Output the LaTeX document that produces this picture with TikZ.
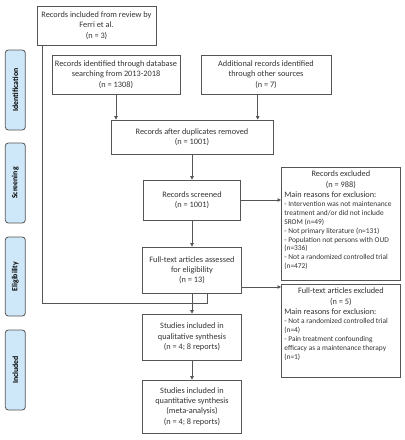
\documentclass[tikz,border=0pt]{standalone}
\usepackage{fontspec}
\setmainfont{Carlito}
\usetikzlibrary{arrows.meta,calc}
\definecolor{txt}{HTML}{333333}
\definecolor{edge}{HTML}{555555}
\definecolor{phasefill}{HTML}{CFE8F9}
\newcommand{\mainsz}{\fontsize{8.3}{10.3}\selectfont}
\newcommand{\itemsz}{\fontsize{7.4}{8.9}\selectfont}
\begin{document}
\begin{tikzpicture}[x=1pt,y=-1pt,
  box/.style={draw=edge,line width=0.8pt,fill=white,text=txt,align=center,inner sep=1pt,
    font=\mainsz},
  tbox/.style={text=txt,inner sep=0pt,anchor=north},
  phase/.style={draw=edge,line width=0.8pt,fill=phasefill,rounded corners=3pt,
    minimum width=20pt,inner sep=0pt,text=black,font=\fontsize{7.8}{9}\selectfont\bfseries},
  arr/.style={draw=edge,line width=0.8pt,-{Triangle[length=3.5pt,width=3.5pt]}},
  ln/.style={draw=edge,line width=0.8pt}]
\useasboundingbox (0,0) rectangle (405,440);
\fill[white] (0,0) rectangle (405,440);

% phase labels
\node[phase,minimum height=80pt] (pid) at (15.3,90) {\rotatebox{90}{Identification}};
\node[phase,minimum height=80pt] (psc) at (15.3,183) {\rotatebox{90}{Screening}};
\node[phase,minimum height=79pt] (pel) at (15.3,276.5) {\rotatebox{90}{Eligibility}};
\node[phase,minimum height=80pt] (pin) at (15.3,370) {\rotatebox{90}{Included}};

% boxes
\node[box,minimum width=119pt,minimum height=39pt] (ferri) at (96.5,25.5)
  {Records included from review by\\Ferri et al.\\(n = 3)};
\node[box,minimum width=128pt,minimum height=39pt] (db) at (116,74.5)
  {Records identified through database\\searching from 2013-2018\\(n = 1308)};
\node[box,minimum width=130pt,minimum height=39pt] (add) at (266,74.5)
  {Additional records identified\\through other sources\\(n = 7)};
\node[box,minimum width=162pt,minimum height=34pt] (dup) at (192,137)
  {Records after duplicates removed\\(n = 1001)};
\node[box,minimum width=97pt,minimum height=40pt] (scr) at (192,200)
  {Records screened\\(n = 1001)};
\node[box,minimum width=99pt,minimum height=46pt] (ft) at (192,270)
  {Full-text articles assessed\\for eligibility\\(n = 13)};
\node[box,minimum width=99pt,minimum height=46pt] (qual) at (192,337)
  {Studies included in\\qualitative synthesis\\(n = 4; 8 reports)};
\node[box,minimum width=99pt,minimum height=53pt] (quant) at (192,406.5)
  {Studies included in\\quantitative synthesis\\(meta-analysis)\\(n = 4; 8 reports)};

\node[box,minimum width=119pt,minimum height=113pt,anchor=north west] (excl) at (281,167) {};
\node[tbox] (excltxt) at ([yshift=-4pt]excl.north)
  {\begin{minipage}[t]{113pt}\color{txt}
   \centering\mainsz Records excluded\\(n = 988)\par
   \raggedright Main reasons for exclusion:\par
   \itemsz
   - Intervention was not maintenance\\treatment and/or did not include\\SROM (n=49)\par
   - Not primary literature (n=131)\par
   - Population not persons with OUD\\(n=336)\par
   - Not a randomized controlled trial\\(n=472)\par
   \end{minipage}};

\node[box,minimum width=119pt,minimum height=93pt,anchor=north west] (ftex) at (281,284) {};
\node[tbox] (ftextxt) at ([yshift=-4pt]ftex.north)
  {\begin{minipage}[t]{113pt}\color{txt}
   \centering\mainsz Full-text articles excluded\\(n = 5)\par
   \raggedright Main reasons for exclusion:\par
   \itemsz
   - Not a randomized controlled trial\\(n=4)\par
   - Pain treatment confounding\\efficacy as a maintenance therapy\\(n=1)\par
   \end{minipage}};

% connectors
\draw[arr] (db.south) -- (db.south |- dup.north);
\coordinate (adds) at ([xshift=-8.3pt]add.south);
\draw[arr] (adds) -- (adds |- dup.north);
\draw[arr] (dup) -- (scr);
\draw[arr] (scr) -- (ft);
\draw[arr] (ft) -- (qual);
\draw[arr] (qual) -- (quant);
\draw[arr] (scr.east) -- (scr.east -| excl.west);
\coordinate (ftr) at ([yshift=-17pt]ft.east);
\draw[arr] (ftr) -- (ftr -| ftex.west);
\coordinate (fb) at ([xshift=5.7pt]ferri.south west);
\coordinate (ftb) at ([xshift=15pt]ft.south);
\coordinate (corner) at (0,303);
\draw[ln] (fb) -- (fb |- corner) -- (ftb |- corner) -- (ftb);
\end{tikzpicture}
\end{document}
